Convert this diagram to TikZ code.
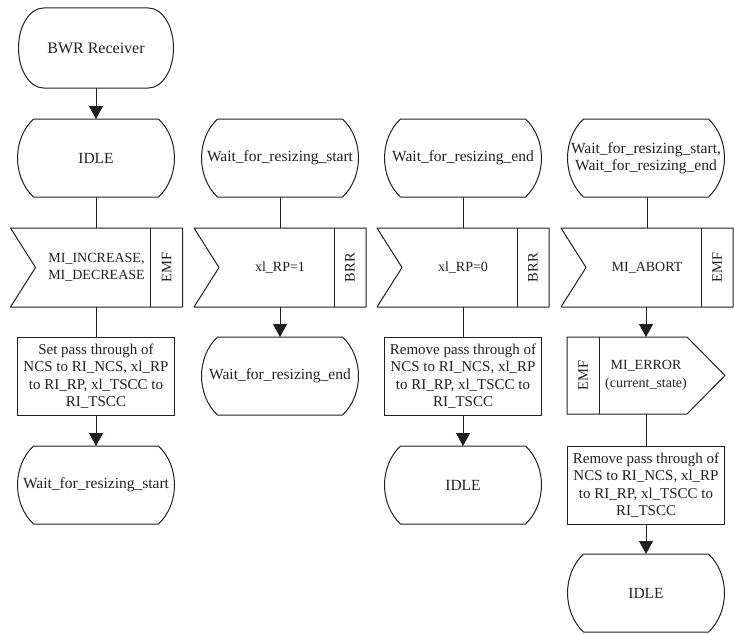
\documentclass[tikz,border=0pt]{standalone}
\usepackage{fontspec}
\setmainfont{Liberation Serif}
\usetikzlibrary{arrows.meta,calc}
\definecolor{ink}{RGB}{35,31,32}
\tikzset{
  outline/.style={draw=ink, line width=1pt, line join=round},
  base/.style={draw=none, inner sep=0pt, outer sep=0pt, align=center, text=ink,
    font=\fontsize{15}{17.5}\selectfont},
  statebox/.style={base, font=\fontsize{15.5}{17}\selectfont, minimum width=157pt, minimum height=78pt,
    append after command={\pgfextra{
      \draw[outline] ($(\tikzlastnode.north west)+(16,0)$) -- ($(\tikzlastnode.north east)+(-16,0)$)
        .. controls ($(\tikzlastnode.north east)+(5.3,20)$) and ($(\tikzlastnode.south east)+(5.3,-20)$) .. ($(\tikzlastnode.south east)+(-16,0)$)
        -- ($(\tikzlastnode.south west)+(16,0)$)
        .. controls ($(\tikzlastnode.south west)+(-5.3,-20)$) and ($(\tikzlastnode.north west)+(-5.3,20)$) .. cycle;
    }}},
  termbox/.style={base, font=\fontsize{16}{18}\selectfont, minimum width=155pt, minimum height=80pt,
    append after command={\pgfextra{
      \draw[outline] ($(\tikzlastnode.north west)+(25,0)$) -- ($(\tikzlastnode.north east)+(-25,0)$)
        .. controls ($(\tikzlastnode.north east)+(-11.2,0)$) and ($(\tikzlastnode.east)+(0,-22.1)$) .. (\tikzlastnode.east)
        .. controls ($(\tikzlastnode.east)+(0,22.1)$) and ($(\tikzlastnode.south east)+(-11.2,0)$) .. ($(\tikzlastnode.south east)+(-25,0)$)
        -- ($(\tikzlastnode.south west)+(25,0)$)
        .. controls ($(\tikzlastnode.south west)+(11.2,0)$) and ($(\tikzlastnode.west)+(0,22.1)$) .. (\tikzlastnode.west)
        .. controls ($(\tikzlastnode.west)+(0,-22.1)$) and ($(\tikzlastnode.north west)+(11.2,0)$) .. cycle;
    }}},
  sigin/.style={base, font=\fontsize{14}{17}\selectfont, minimum width=172pt, minimum height=79pt,
    append after command={\pgfextra{
      \draw[outline] (\tikzlastnode.north west) -- (\tikzlastnode.north east) -- (\tikzlastnode.south east)
        -- (\tikzlastnode.south west) -- ($(\tikzlastnode.west)+(25,0)$) -- cycle;
      \draw[outline] ($(\tikzlastnode.north east)+(-32,0)$) -- ($(\tikzlastnode.south east)+(-32,0)$);
    }}},
  sigout/.style={base, font=\fontsize{14}{18}\selectfont, minimum width=158pt, minimum height=77pt,
    append after command={\pgfextra{
      \draw[outline] (\tikzlastnode.north west) -- ($(\tikzlastnode.north east)+(-38,0)$) -- (\tikzlastnode.east)
        -- ($(\tikzlastnode.south east)+(-38,0)$) -- (\tikzlastnode.south west) -- cycle;
      \draw[outline] ($(\tikzlastnode.north west)+(32,0)$) -- ($(\tikzlastnode.south west)+(32,0)$);
    }}},
  sigtag/.style={base, font=\fontsize{14.5}{14.5}\selectfont, rotate=90},
  taskbox/.style={base, draw=ink, line width=1pt, minimum width=157pt, minimum height=78pt,
    font=\fontsize{15}{17.5}\selectfont},
  flow/.style={draw=ink, line width=1pt},
  flowarrow/.style={flow, -{Triangle[length=13pt,width=14pt]}}
}
\begin{document}
\begin{tikzpicture}[x=1pt,y=-1pt]
\useasboundingbox (0,0) rectangle (735,634);

% column 1
\node[termbox] (start) at (96,48) {BWR Receiver};
\node[statebox] (idle1) at (96,158) {IDLE};
\node[sigin] (in1) at (96.5,267.5) {MI\_INCREASE,\\MI\_DECREASE};
\node[sigtag] (in1t) at ($(in1.east)+(-16,0)$) {EMF};
\node[taskbox] (task1) at (96,376) {Set pass through of\\NCS to RI\_NCS, xl\_RP\\to RI\_RP, xl\_TSCC to\\RI\_TSCC};
\node[statebox] (st1) at (96,485) {Wait\_for\_resizing\_start};

% column 2
\node[statebox] (st2a) at (280,158) {Wait\_for\_resizing\_start};
\node[sigin] (in2) at (280,267.5) {xl\_RP=1};
\node[sigtag] (in2t) at ($(in2.east)+(-16,0)$) {BRR};
\node[statebox] (st2b) at (280,376) {Wait\_for\_resizing\_end};

% column 3
\node[statebox] (st3a) at (463,158) {Wait\_for\_resizing\_end};
\node[sigin] (in3) at (463,267.5) {xl\_RP=0};
\node[sigtag] (in3t) at ($(in3.east)+(-16,0)$) {BRR};
\node[taskbox] (task3) at (463,376) {Remove pass through of\\NCS to RI\_NCS, xl\_RP\\to RI\_RP, xl\_TSCC to\\RI\_TSCC};
\node[statebox] (idle3) at (463,485) {IDLE};

% column 4
\node[statebox] (st4a) at (646,158) {Wait\_for\_resizing\_start,\\Wait\_for\_resizing\_end};
\node[sigin] (in4) at (647,267.5) {MI\_ABORT};
\node[sigtag] (in4t) at ($(in4.east)+(-16,0)$) {EMF};
\node[sigout] (out4) at (646,375.5) {MI\_ERROR\\(current\_state)};
\node[sigtag] (out4t) at ($(out4.west)+(16,0)$) {EMF};
\node[taskbox] (task4) at (646,485) {Remove pass through of\\NCS to RI\_NCS, xl\_RP\\to RI\_RP, xl\_TSCC to\\RI\_TSCC};
\node[statebox] (idle4) at (646,593) {IDLE};

% connectors
\draw[flowarrow] (start.south) -- (start.south |- idle1.north);
\draw[flow] (idle1.south) -- (idle1.south |- in1.north);
\draw[flow] (idle1.south |- in1.south) -- (idle1.south |- task1.north);
\draw[flowarrow] (task1.south) -- (st1.north);

\draw[flow] (st2a.south) -- (in2.north);
\draw[flowarrow] (in2.south) -- (st2b.north);

\draw[flow] (st3a.south) -- (in3.north);
\draw[flow] (in3.south) -- (task3.north);
\draw[flowarrow] (task3.south) -- (idle3.north);

\coordinate (c4a) at (in4.south -| out4.north);
\draw[flow] (st4a.south -| in4.north) -- (in4.north);
\draw[flowarrow] (c4a) -- (out4.north);
\draw[flow] (out4.south) -- (task4.north);
\draw[flowarrow] (task4.south) -- (idle4.north);
\end{tikzpicture}
\end{document}
